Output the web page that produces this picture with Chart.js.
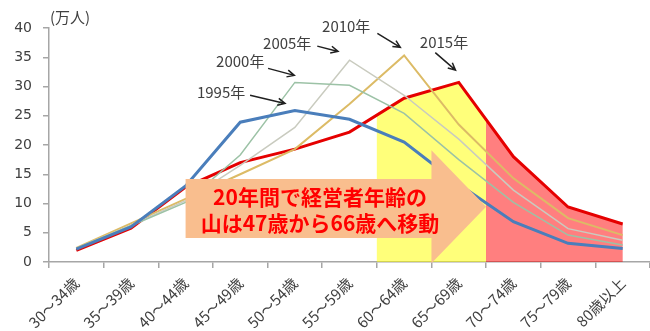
<!DOCTYPE html>
<html>
<head>
<meta charset="utf-8">
<script src="https://cdn.jsdelivr.net/npm/chart.js@4/dist/chart.umd.min.js"></script>
<style>
  html, body { margin: 0; padding: 0; background: #fff; }
  #wrap { width: 650px; height: 331px; }
</style>
</head>
<body>
<div id="wrap"><canvas id="ageChart" width="650" height="331"></canvas></div>
<script>
// --- DATA ---
const categories = ['30～34歳', '35～39歳', '40～44歳', '45～49歳', '50～54歳', '55～59歳',
  '60～64歳', '65～69歳', '70～74歳', '75～79歳', '80歳以上'];
const yearLabels = ['1995年', '2000年', '2005年', '2010年', '2015年'];
const values1995 = [2.2, 6.0, 13.0, 23.9, 25.9, 24.4, 20.5, 13.3, 6.9, 3.2, 2.3];
const values2000 = [2.3, 6.2, 10.2, 18.3, 30.7, 30.2, 25.4, 17.5, 10.2, 4.6, 2.9];
const values2005 = [2.3, 6.3, 10.5, 16.5, 23.0, 34.5, 28.5, 21.0, 12.3, 5.7, 3.7];
const values2010 = [2.4, 6.6, 10.8, 15.0, 19.3, 27.0, 35.3, 23.5, 14.3, 7.5, 4.6];
const values2015 = [2.0, 5.8, 12.8, 17.0, 19.3, 22.2, 28.0, 30.7, 18.0, 9.4, 6.5];
const yTicks = [0, 5, 10, 15, 20, 25, 30, 35, 40];
const unitLabel = '(万人)';
const yellowRange = ['60～64歳', '65～69歳'];
const redRange = ['70～74歳', '80歳以上'];
const arrowText = ['20年間で経営者年齢の', '山は47歳から66歳へ移動'];

// --- ANNOTATION PLACEMENT (category index, value) ---
const yearNotes = [
  { text: '1995年', at: [2.65, 29.0], from: [3.18, 28.5], to: [3.82, 27.1] },
  { text: '2000年', at: [3.0, 34.3], from: [3.51, 33.1], to: [3.99, 31.9] },
  { text: '2005年', at: [3.86, 37.4], from: [4.41, 36.9], to: [4.79, 36.0] },
  { text: '2010年', at: [4.94, 40.3], from: [5.51, 39.1], to: [5.93, 36.7] },
  { text: '2015年', at: [6.73, 37.5], from: [6.57, 35.8], to: [6.94, 32.8] }
];
const moveArrow = { start: 2, neck: 6.5, tip: 7.5, bodyTop: 14.2, bodyBottom: 4.1, headTop: 19.1, headBottom: -0.2 };
const arrowTextPos = { x: 4.46, line1: 11.1, line2: 6.7 };

const seriesColors = ['#4a7ebb', '#9cc2a6', '#c9cbbf', '#dcbb66', '#e50000'];
const seriesWidths = [3, 1.5, 1.5, 2, 3];

function px(chart, idx, val) {
  return [chart.scales.x.getPixelForValue(idx), chart.scales.y.getPixelForValue(val)];
}

// --- SHADING UNDER THE 2015 LINE ---
const shadePlugin = {
  id: 'shade',
  beforeDatasetDraw(chart, args) {
    if (args.index !== 4) return;
    const pts = chart.getDatasetMeta(4).data;
    const xs = chart.scales.x;
    const base = chart.scales.y.getPixelForValue(0);
    const ctx = chart.ctx;
    const edge = (i) => (xs.getPixelForValue(i) + xs.getPixelForValue(i - 1)) / 2;
    const y0 = categories.indexOf(yellowRange[0]);
    const r0 = categories.indexOf(redRange[0]);
    const area = (x0, x1, color) => {
      ctx.save();
      ctx.beginPath();
      ctx.rect(x0, chart.chartArea.top, x1 - x0, base - chart.chartArea.top);
      ctx.clip();
      ctx.beginPath();
      ctx.moveTo(pts[0].x, base);
      pts.forEach(p => ctx.lineTo(p.x, p.y));
      ctx.lineTo(pts[pts.length - 1].x, base);
      ctx.closePath();
      ctx.fillStyle = color;
      ctx.fill();
      ctx.restore();
    };
    area(edge(y0), edge(r0), 'rgba(255,255,0,0.52)');
    area(edge(r0), chart.chartArea.right, 'rgba(255,0,0,0.5)');
  },
  afterDatasetsDraw(chart) {
    const ctx = chart.ctx;
    const a = moveArrow;
    ctx.save();
    // big arrow
    const p = (i, v) => px(chart, i, v);
    ctx.beginPath();
    ctx.moveTo(...p(a.start, a.bodyTop));
    ctx.lineTo(...p(a.neck, a.bodyTop));
    ctx.lineTo(...p(a.neck, a.headTop));
    ctx.lineTo(...p(a.tip, (a.headTop + a.headBottom) / 2));
    ctx.lineTo(...p(a.neck, a.headBottom));
    ctx.lineTo(...p(a.neck, a.bodyBottom));
    ctx.lineTo(...p(a.start, a.bodyBottom));
    ctx.closePath();
    ctx.fillStyle = '#f9be8e';
    ctx.fill();

    ctx.fillStyle = '#ff0000';
    ctx.font = 'bold 21px "Noto Sans CJK JP"';
    ctx.textAlign = 'center';
    ctx.textBaseline = 'middle';
    ctx.fillText(arrowText[0], ...p(arrowTextPos.x, arrowTextPos.line1));
    ctx.fillText(arrowText[1], ...p(arrowTextPos.x, arrowTextPos.line2));

    // year labels with pointers
    ctx.font = '15px "Noto Sans CJK JP"';
    ctx.fillStyle = '#404040';
    ctx.strokeStyle = '#202020';
    ctx.lineWidth = 1.5;
    yearNotes.forEach(n => {
      ctx.fillText(n.text, ...p(n.at[0], n.at[1]));
      const [x1, y1] = p(n.from[0], n.from[1]);
      const [x2, y2] = p(n.to[0], n.to[1]);
      ctx.beginPath();
      ctx.moveTo(x1, y1);
      ctx.lineTo(x2, y2);
      const ang = Math.atan2(y2 - y1, x2 - x1);
      const h = 8;
      ctx.moveTo(x2 - h * Math.cos(ang - 0.45), y2 - h * Math.sin(ang - 0.45));
      ctx.lineTo(x2, y2);
      ctx.lineTo(x2 - h * Math.cos(ang + 0.45), y2 - h * Math.sin(ang + 0.45));
      ctx.stroke();
    });

    // unit label
    ctx.font = '15px "Noto Sans CJK JP"';
    ctx.textAlign = 'left';
    ctx.fillStyle = '#404040';
    ctx.fillText(unitLabel, chart.chartArea.left + 1, chart.chartArea.top - 11);
    ctx.restore();
  }
};

const seriesValues = [values1995, values2000, values2005, values2010, values2015];

new Chart(document.getElementById('ageChart'), {
  type: 'line',
  data: {
    labels: categories,
    datasets: seriesValues.map((vals, i) => ({
      label: yearLabels[i],
      data: vals,
      borderColor: seriesColors[i],
      borderWidth: seriesWidths[i],
      pointRadius: 0,
      tension: 0,
      fill: false
    }))
  },
  options: {
    responsive: false,
    animation: false,
    layout: { padding: { top: 28, right: 0, left: 0, bottom: 0 } },
    plugins: { legend: { display: false }, tooltip: { enabled: false } },
    scales: {
      x: {
        offset: true,
        grid: { offset: true, drawOnChartArea: false, tickLength: 6, color: '#a6a6a6', lineWidth: 1.5 },
        border: { color: '#a6a6a6', width: 1.5 },
        ticks: {
          minRotation: 45, maxRotation: 45, padding: 6,
          color: '#404040', font: { family: '"Noto Sans CJK JP"', size: 15 }
        },
        afterFit(scale) { scale.height = 69; scale.paddingLeft = 0; scale.paddingRight = 0; }
      },
      y: {
        min: 0, max: 40,
        afterBuildTicks(scale) { scale.ticks = yTicks.map(v => ({ value: v })); },
        grid: { drawOnChartArea: false, tickLength: 6, color: '#a6a6a6', lineWidth: 1.5 },
        border: { color: '#a6a6a6', width: 1.5 },
        ticks: { padding: 11, color: '#404040', font: { family: '"DejaVu Sans"', size: 14 } },
        afterFit(scale) { scale.width = 49; }
      }
    }
  },
  plugins: [shadePlugin]
});
</script>
</body>
</html>
